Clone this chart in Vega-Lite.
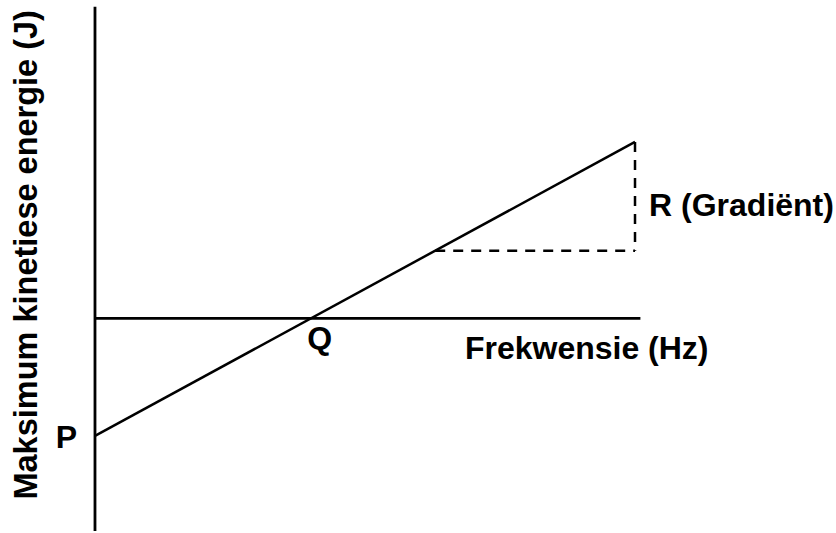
{
  "$schema": "https://vega.github.io/schema/vega-lite/v6.json",
  "width": 836,
  "height": 533,
  "autosize": {"type": "fit", "contains": "padding"},
  "padding": 0,
  "background": "white",
  "config": {"view": {"stroke": null}},
  "datasets": {
    "segments": [
      {"part": "axis", "f": 0, "E": 5.3, "f2": 0, "E2": -3.62},
      {"part": "axis", "f": 0, "E": 0, "f2": 10.1, "E2": 0},
      {"part": "graph", "f": 0, "E": -2, "f2": 10, "E2": 3},
      {"part": "gradient", "f": 6.3, "E": 1.15, "f2": 10, "E2": 1.15},
      {"part": "gradient", "f": 10, "E": 3, "f2": 10, "E2": 1.15}
    ],
    "labels": [
      {"text": "P", "f": -0.33, "E": -2.21, "align": "right"},
      {"text": "Q", "f": 4.16, "E": -0.52, "align": "center"},
      {"text": "Frekwensie (Hz)", "f": 6.85, "E": -0.69, "align": "left"},
      {"text": "R (Gradiënt)", "f": 10.26, "E": 1.74, "align": "left"}
    ]
  },
  "layer": [
    {
      "data": {"name": "segments"},
      "transform": [{"filter": "datum.part === 'axis'"}],
      "mark": {"type": "rule", "color": "black", "strokeWidth": 2.8},
      "encoding": {
        "x": {"field": "f", "type": "quantitative", "scale": {"domain": [-1.759, 13.722], "nice": false, "zero": false}, "axis": null},
        "y": {"field": "E", "type": "quantitative", "scale": {"domain": [-3.619, 5.415], "nice": false, "zero": false}, "axis": null},
        "x2": {"field": "f2"},
        "y2": {"field": "E2"}
      }
    },
    {
      "data": {"name": "segments"},
      "transform": [{"filter": "datum.part === 'graph'"}],
      "mark": {"type": "rule", "color": "black", "strokeWidth": 2.5},
      "encoding": {
        "x": {"field": "f", "type": "quantitative"},
        "y": {"field": "E", "type": "quantitative"},
        "x2": {"field": "f2"},
        "y2": {"field": "E2"}
      }
    },
    {
      "data": {"name": "segments"},
      "transform": [{"filter": "datum.part === 'gradient'"}],
      "mark": {"type": "rule", "color": "black", "strokeWidth": 2.5, "strokeDash": [10, 8]},
      "encoding": {
        "x": {"field": "f", "type": "quantitative"},
        "y": {"field": "E", "type": "quantitative"},
        "x2": {"field": "f2"},
        "y2": {"field": "E2"}
      }
    },
    {
      "data": {"name": "labels"},
      "transform": [{"filter": "datum.align === 'left'"}],
      "mark": {"type": "text", "font": "Liberation Sans", "fontWeight": "bold", "fontSize": 32, "align": "left", "baseline": "alphabetic", "color": "black"},
      "encoding": {
        "x": {"field": "f", "type": "quantitative"},
        "y": {"field": "E", "type": "quantitative"},
        "text": {"field": "text"}
      }
    },
    {
      "data": {"name": "labels"},
      "transform": [{"filter": "datum.align === 'center'"}],
      "mark": {"type": "text", "font": "Liberation Sans", "fontWeight": "bold", "fontSize": 32, "align": "center", "baseline": "alphabetic", "color": "black"},
      "encoding": {
        "x": {"field": "f", "type": "quantitative"},
        "y": {"field": "E", "type": "quantitative"},
        "text": {"field": "text"}
      }
    },
    {
      "data": {"name": "labels"},
      "transform": [{"filter": "datum.align === 'right'"}],
      "mark": {"type": "text", "font": "Liberation Sans", "fontWeight": "bold", "fontSize": 32, "align": "right", "baseline": "alphabetic", "color": "black"},
      "encoding": {
        "x": {"field": "f", "type": "quantitative"},
        "y": {"field": "E", "type": "quantitative"},
        "text": {"field": "text"}
      }
    },
    {
      "data": {"values": [{"text": "Maksimum kinetiese energie (J)", "f": -1.07, "E": 1.08}]},
      "mark": {"type": "text", "font": "Liberation Sans", "fontWeight": "bold", "fontSize": 32.5, "align": "center", "baseline": "alphabetic", "angle": 270, "color": "black"},
      "encoding": {
        "x": {"field": "f", "type": "quantitative"},
        "y": {"field": "E", "type": "quantitative"},
        "text": {"field": "text"}
      }
    }
  ]
}
